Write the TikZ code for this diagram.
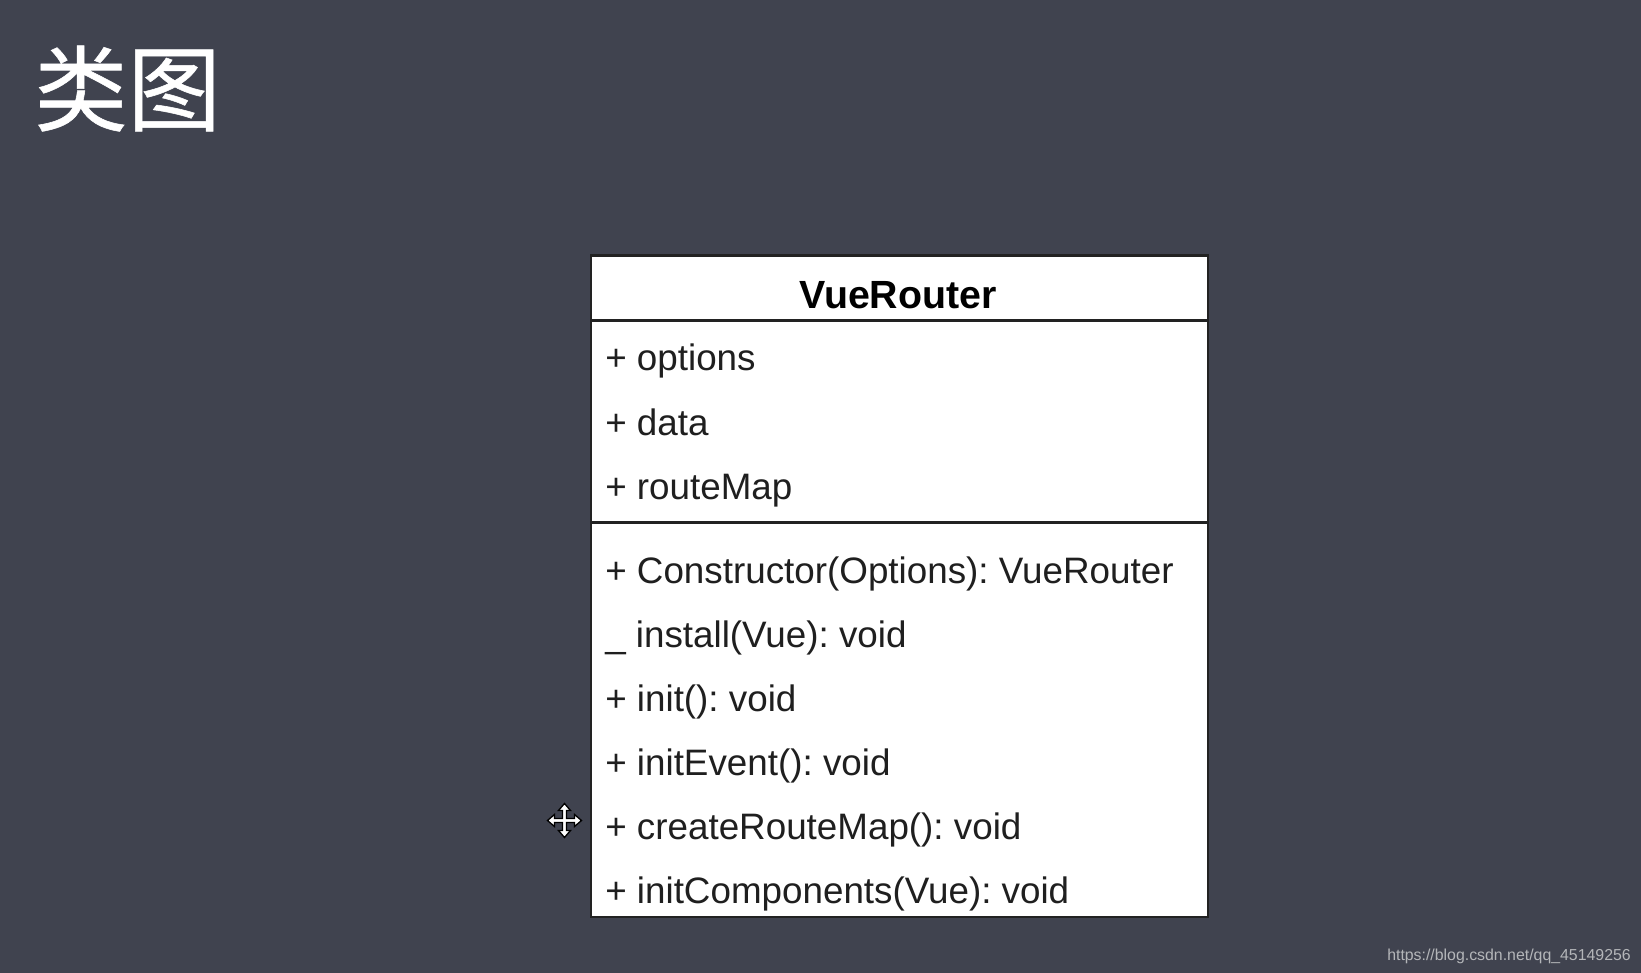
\documentclass[tikz,border=0pt]{standalone}
\usepackage{fontspec}
\setmainfont{Liberation Sans}
\newfontfamily\cjk[FakeBold=0.6]{Noto Sans CJK SC}
\definecolor{bgc}{HTML}{40434F}
\definecolor{linec}{HTML}{222222}
\definecolor{markc}{HTML}{B4B6B9}
\tikzset{
  px/.style={x=0.75pt,y=-0.75pt},
  compart/.style={draw=linec,line width=1.6pt,fill=white,inner sep=0pt,anchor=north west,outer sep=0pt},
  rowtext/.style={anchor=base west,inner sep=0pt,text=black!88,font=\fontsize{27.6}{27.6}\selectfont},
  headtext/.style={anchor=base,inner sep=0pt,text=black,font=\fontsize{29.5}{29.5}\selectfont\bfseries},
  titletext/.style={anchor=base west,inner sep=0pt,text=white,font=\cjk\fontsize{70}{70}\selectfont},
  marktext/.style={anchor=base east,inner sep=0pt,text=markc,font=\fontsize{11.9}{11.9}\selectfont}
}
\begin{document}
\frenchspacing
\begin{tikzpicture}[px]
\useasboundingbox[fill=bgc] (0,0) rectangle (1641,973);
\node[titletext] (title) at (34,124) {类图};
\node[compart,minimum width=463pt,minimum height=48.75pt] (head) at (591,255.5) {};
\node[compart,minimum width=463pt,minimum height=151.5pt] (attrs) at (591,320.5) {};
\node[compart,minimum width=463pt,minimum height=296pt] (ops) at (591,522.5) {};
\node[headtext] (name) at (898,309) {VueRouter};
\node[rowtext] (r1) at (605,371) {+ options};
\node[rowtext] (r2) at (605,435) {+ data};
\node[rowtext] (r3) at (605,499) {+ routeMap};
\node[rowtext] (r4) at (605,583) {+ Constructor(Options): VueRouter};
\node[rowtext] (r5) at (605,647) {\_ install(Vue): void};
\node[rowtext] (r6) at (605,711) {+ init(): void};
\node[rowtext] (r7) at (605,775) {+ initEvent(): void};
\node[rowtext] (r8) at (605,839) {+ createRouteMap(): void};
\node[rowtext] (r9) at (605,903) {+ initComponents(Vue): void};
\node[marktext] (mark) at (1631,960) {https://blog.csdn.net/qq\_45149256};
\draw[fill=white,draw=black,line width=1pt,line join=miter,shift={(564.5,820.5)}]
  (0,-17) -- (6,-10) -- (2,-10) -- (2,-2) -- (10,-2) -- (10,-6) -- (17,0) -- (10,6) -- (10,2) -- (2,2) -- (2,10) -- (6,10)
  -- (0,17) -- (-6,10) -- (-2,10) -- (-2,2) -- (-10,2) -- (-10,6) -- (-17,0) -- (-10,-6) -- (-10,-2) -- (-2,-2) -- (-2,-10) -- (-6,-10) -- cycle;
\end{tikzpicture}
\end{document}
